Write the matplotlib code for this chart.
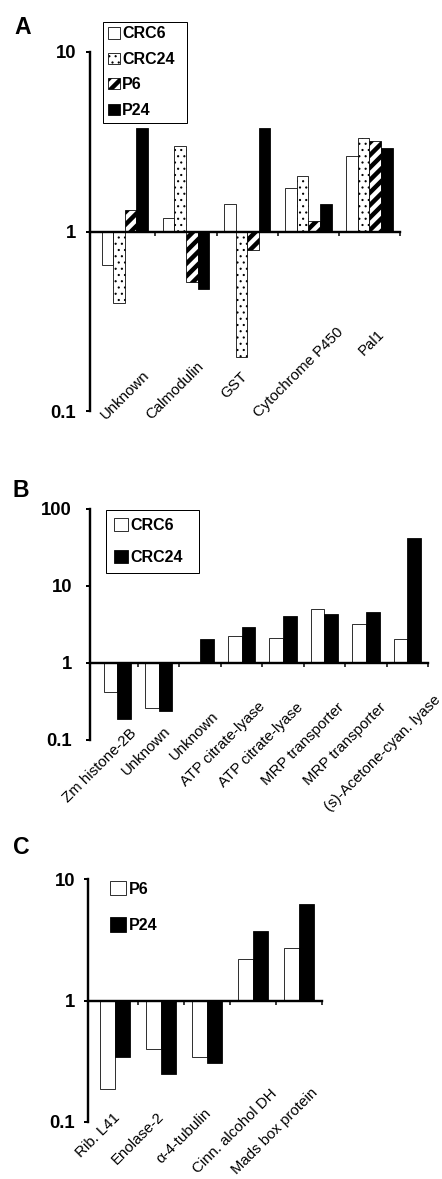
import matplotlib
matplotlib.use("Agg")
import matplotlib.pyplot as plt
import numpy as np
from matplotlib.transforms import blended_transform_factory, ScaledTranslation
from matplotlib.ticker import NullLocator

# ---------------- data ----------------
a_genes = ["Unknown", "Calmodulin", "GST", "Cytochrome P450", "Pal1"]
a_names = ["CRC6", "CRC24", "P6", "P24"]
a_crc6 = [0.65, 1.19, 1.43, 1.75, 2.63]
a_crc24 = [0.40, 3.00, 0.20, 2.05, 3.30]
a_p6 = [1.32, 0.52, 0.79, 1.15, 3.19]
a_p24 = [3.78, 0.48, 3.78, 1.43, 2.92]

b_genes = ["Zm histone-2B", "Unknown", "Unknown", "ATP citrate-lyase",
           "ATP citrate-lyase", "MRP transporter", "MRP transporter",
           "(s)-Acetone-cyan. lyase"]
b_names = ["CRC6", "CRC24"]
b_crc6 = [0.415, 0.26, 1.0, 2.23, 2.10, 5.06, 3.21, 2.02]
b_crc24 = [0.19, 0.236, 2.08, 2.91, 4.07, 4.27, 4.58, 42.3]

c_genes = ["Rib. L41", "Enolase-2", "\u03b1-4-tubulin", "Cinn. alcohol DH",
           "Mads box protein"]
c_names = ["P6", "P24"]
c_p6 = [0.187, 0.40, 0.346, 2.20, 2.70]
c_p24 = [0.341, 0.249, 0.308, 3.75, 6.26]

# ---------------- layout / style ----------------
DPI = 75
W, H = 442, 1179
PT = 72.0 / DPI  # points per pixel

plt.rcParams["font.family"] = ["Liberation Sans", "DejaVu Sans"]
plt.rcParams["hatch.color"] = "black"

fig = plt.figure(figsize=(W / DPI, H / DPI), dpi=DPI)
fig.patch.set_facecolor("white")


def add_axes(l, t, r, b):
    return fig.add_axes([l / W, 1 - b / H, (r - l) / W, (b - t) / H])


def set_hlw(patches, hlw):
    for p in patches:
        if hasattr(p, "set_hatch_linewidth"):
            p.set_hatch_linewidth(hlw)


def make_panel(ax, genes, series, names, styles, width, xlim, ylim, yticks,
               ytick_labels, label_offsets, ypad):
    ax.set_yscale("log")
    n = len(genes)
    k = len(series)
    x = np.arange(n)
    handles = []
    for i, (vals, st) in enumerate(zip(series, styles)):
        v = np.asarray(vals, dtype=float)
        pos = x + (i - (k - 1) / 2.0) * width
        hlw = st.get("hlw", 1.0)
        with plt.rc_context({"hatch.linewidth": hlw}):
            bars = ax.bar(pos, v - 1.0, bottom=1.0, width=width,
                          facecolor=st["fc"], edgecolor="black",
                          linewidth=0.8 * PT, hatch=st.get("hatch"),
                          label=names[i], zorder=2)
        set_hlw(bars.patches, hlw)
        handles.append(bars)
    ax.set_xlim(*xlim)
    ax.set_ylim(*ylim)
    for s in ("top", "right"):
        ax.spines[s].set_visible(False)
    ax.spines["bottom"].set_position(("data", 1))
    ax.spines["bottom"].set_linewidth(2.4 * PT)
    ax.spines["left"].set_linewidth(2.4 * PT)
    ax.spines["bottom"].set_zorder(3)
    ax.set_xticks([])
    ax.set_xticks(np.arange(n) + 0.5, minor=True)
    ax.tick_params(axis="x", which="minor", direction="out", length=4 * PT,
                   width=1.5 * PT, labelbottom=False)
    ax.set_yticks(yticks, labels=ytick_labels, fontweight="bold")
    ax.yaxis.set_minor_locator(NullLocator())
    ax.tick_params(axis="y", which="major", direction="out", length=4 * PT,
                   width=2 * PT, pad=ypad * PT, labelsize=18.5 * PT)
    base = blended_transform_factory(ax.transData, ax.transAxes)
    for i, (g, (dx, dy)) in enumerate(zip(genes, label_offsets)):
        tr = base + ScaledTranslation(dx / DPI, dy / DPI, fig.dpi_scale_trans)
        ax.text(i, 0, g, transform=tr, rotation=45, ha="center", va="center",
                rotation_mode="anchor", fontsize=15 * PT, clip_on=False)
    return handles


def make_legend(ax, handles, names, styles, framed, **kw):
    with plt.rc_context({"hatch.linewidth": 1.0}):
        leg = ax.legend(handles, names, loc="upper left",
                        bbox_transform=fig.transFigure, borderaxespad=0,
                        frameon=framed, fancybox=False, edgecolor="black",
                        framealpha=1, prop=dict(weight="bold", size=16 * PT),
                        **kw)
    for h, st in zip(leg.legend_handles, styles):
        set_hlw([h], st.get("hlw", 1.0))
    if framed:
        leg.get_frame().set_linewidth(1.0 * PT)
    return leg


def panel_letter(x, y, s):
    fig.text(x / W, 1 - y / H, s, ha="center", va="center",
             fontsize=23 * PT, fontweight="bold")


def px_box(l, t, r, b):
    """figure-fraction bbox (x0, y0, w, h) from pixel edges"""
    return (l / W, 1 - b / H, (r - l) / W, (b - t) / H)


# ---------------- Panel A ----------------
axA = add_axes(90, 52, 400, 411)
stylesA = [dict(fc="white"),
           dict(fc="white", hatch="..", hlw=0.9),
           dict(fc="white", hatch="//", hlw=4.3),
           dict(fc="black")]
hA = make_panel(axA, a_genes, [a_crc6, a_crc24, a_p6, a_p24], a_names, stylesA,
                width=0.19, xlim=(-0.57, 4.5), ylim=(0.1, 10),
                yticks=[0.1, 1, 10], ytick_labels=["0.1", "1", "10"],
                label_offsets=[(0, 16), (-11, 20), (-13, 26), (-10, 39), (2, 68)],
                ypad=10)
make_legend(axA, hA, a_names, stylesA, True,
            bbox_to_anchor=px_box(102.7, 21.7, 187.3, 119.3), mode="expand",
            handlelength=0.75, handleheight=0.7, handletextpad=0.15,
            labelspacing=0.65, borderpad=0.3)
panel_letter(23, 28, "A")

# ---------------- Panel B ----------------
axB = add_axes(90, 509, 428, 740)
stylesB = [dict(fc="white"), dict(fc="black")]
hB = make_panel(axB, b_genes, [b_crc6, b_crc24], b_names, stylesB,
                width=0.33, xlim=(-0.66, 7.5), ylim=(0.1, 100),
                yticks=[0.1, 1, 10, 100], ytick_labels=["0.1", "1", "10", "100"],
                label_offsets=[(-18, -26), (-13, -11), (-6, 4), (-19, -4),
                               (-22, -5), (-22, -4), (-21, -4), (-25, -13)],
                ypad=14)
make_legend(axB, hB, b_names, stylesB, True,
            bbox_to_anchor=px_box(106, 510, 199.3, 574), mode="expand",
            handlelength=0.85, handleheight=0.9, handletextpad=0.2,
            labelspacing=1.05, borderpad=0.5)
panel_letter(21, 490, "B")

# ---------------- Panel C ----------------
axC = add_axes(88, 879, 322, 1122)
stylesC = [dict(fc="white"), dict(fc="black")]
hC = make_panel(axC, c_genes, [c_p6, c_p24], c_names, stylesC,
                width=0.33, xlim=(-0.59, 4.5), ylim=(0.1, 10),
                yticks=[0.1, 1, 10], ytick_labels=["0.1", "1", "10"],
                label_offsets=[(-17, -13), (-23, -16), (-23, -14), (-18, -9), (-24, -9)],
                ypad=9)
make_legend(axC, hC, c_names, stylesC, False,
            bbox_to_anchor=(110 / W, 1 - 881 / H),
            handlelength=1.0, handleheight=1.0, handletextpad=0.2,
            labelspacing=1.3, borderpad=0.0)
panel_letter(21, 848, "C")

fig.savefig("out.png", dpi=DPI, facecolor="white")
